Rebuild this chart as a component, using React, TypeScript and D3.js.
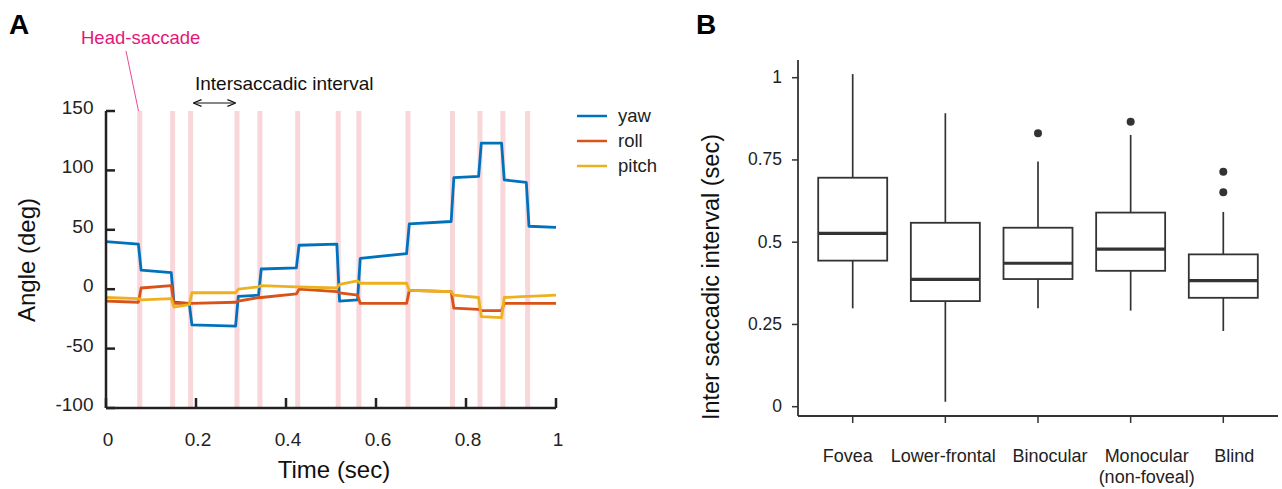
import React from "react";
import * as d3 from "d3";

// ---------- Panel A data ----------
const saccadeTimes = [0.075, 0.148, 0.188, 0.291, 0.342, 0.426, 0.516, 0.562, 0.671, 0.77, 0.831, 0.882, 0.937];
// each inter-saccade segment: [start value, end value]
const yawSegments: [number, number][] = [
  [40, 38], [16, 14], [-11, -12], [-30, -31], [-6, -5], [17, 18], [37, 38],
  [-10, -9], [26, 30], [55, 57], [94, 95], [123, 123], [92, 90], [53, 52],
];
const rollSegments: [number, number][] = [
  [-10, -11], [1, 3], [-12, -12], [-12, -11], [-10, -7], [-7, -4], [0, -2],
  [-3, -5], [-12, -12], [-1, -2], [-16, -17], [-18, -18], [-12, -12], [-12, -12],
];
const pitchSegments: [number, number][] = [
  [-7, -8], [-9, -8], [-15, -13], [-3, -3], [0, 2], [3, 2], [2, 1],
  [4, 7], [5, 5], [-1, -2], [-5, -7], [-23, -24], [-7, -6], [-6, -5],
];
const seriesNames = ["yaw", "roll", "pitch"];
const seriesColors = ["#0072BD", "#D95319", "#EDB120"];
const yTicksA = [-100, -50, 0, 50, 100, 150];
const xTicksA = [0, 0.2, 0.4, 0.6, 0.8, 1];

// ---------- Panel B data ----------
const categories = ["Fovea", "Lower-frontal", "Binocular", "Monocular\n(non-foveal)", "Blind"];
const whiskerLow = [0.299, 0.015, 0.299, 0.292, 0.23];
const q1 = [0.444, 0.321, 0.388, 0.413, 0.331];
const medians = [0.527, 0.387, 0.436, 0.479, 0.383];
const q3 = [0.696, 0.559, 0.544, 0.59, 0.463];
const whiskerHigh = [1.011, 0.892, 0.745, 0.826, 0.592];
const outliers: number[][] = [[], [], [0.831], [0.866], [0.714, 0.652]];
const yTicksB = [0, 0.25, 0.5, 0.75, 1];

function buildLine(segs: [number, number][]): [number, number][] {
  const bounds = [0, ...saccadeTimes, 1];
  const pts: [number, number][] = [];
  segs.forEach((s, i) => {
    const t0 = i === 0 ? bounds[0] : bounds[i] + 0.003;
    const t1 = i === segs.length - 1 ? bounds[i + 1] : bounds[i + 1] - 0.003;
    pts.push([t0, s[0]]);
    pts.push([t1, s[1]]);
  });
  return pts;
}

export default function App() {
  const font = "Liberation Sans, Arial, Helvetica, sans-serif";
  // Panel A scales
  const xA = d3.scaleLinear().domain([0, 1]).range([106, 556]);
  const yA = d3.scaleLinear().domain([-100, 150]).range([408, 111]);
  const lineGen = d3.line<[number, number]>().x((d) => xA(d[0])).y((d) => yA(d[1]));
  const allSeries = [yawSegments, rollSegments, pitchSegments];

  // Panel B scales
  const xB = d3.scalePoint<string>().domain(categories).range([852.7, 1223.3]);
  const yB = d3.scaleLinear().domain([0, 1]).range([406.7, 77.7]);
  const boxW = 69;
  const labelShift = [-5, -2, 12, 16, 11];

  return (
    <div style={{ position: "absolute", left: 0, top: 0 }}>
      <svg width={1282} height={489} style={{ display: "block", background: "#fff" }} fontFamily={font}>
        {/* Panel labels */}
        <text x={9} y={34} fontSize={28} fontWeight="bold" fill="#000">A</text>
        <text x={696} y={34} fontSize={28} fontWeight="bold" fill="#000">B</text>

        {/* Saccade bands */}
        {saccadeTimes.map((t, i) => (
          <rect key={i} x={xA(t) - 2.5} y={yA(150)} width={5} height={yA(-100) - yA(150)} fill="#f9d6da" />
        ))}

        {/* Annotations */}
        <text x={81} y={43.5} fontSize={18.5} fill="#e5177b">Head-saccade</text>
        <line x1={126} y1={51} x2={138.5} y2={111} stroke="#e5177b" strokeWidth={0.8} />
        <text x={195} y={90} fontSize={19} fill="#111">Intersaccadic interval</text>
        <defs>
          <marker id="arr" viewBox="0 0 10 10" refX={9} refY={5} markerWidth={7} markerHeight={7} orient="auto-start-reverse">
            <path d="M0,1 L10,5 L0,9" fill="none" stroke="#111" strokeWidth={1.5} />
          </marker>
        </defs>
        <line x1={194} y1={103} x2={235} y2={103} stroke="#111" strokeWidth={1.2} markerStart="url(#arr)" markerEnd="url(#arr)" />

        {/* Series */}
        {allSeries.map((segs, i) => (
          <path key={i} d={lineGen(buildLine(segs)) || ""} fill="none" stroke={seriesColors[i]} strokeWidth={2.8} strokeLinejoin="round" />
        ))}

        {/* Axes A */}
        <line x1={xA(0)} y1={yA(150)} x2={xA(0)} y2={yA(-100)} stroke="#222" strokeWidth={2.5} />
        <line x1={xA(0)} y1={yA(-100)} x2={xA(1)} y2={yA(-100)} stroke="#222" strokeWidth={2.5} />
        {yTicksA.map((v) => (
          <g key={v}>
            <line x1={xA(0)} x2={xA(0) + 9} y1={yA(v)} y2={yA(v)} stroke="#222" strokeWidth={2.5} />
            <text x={93.5} y={yA(v) + 3} textAnchor="end" fontSize={19} fill="#222">{v}</text>
          </g>
        ))}
        {xTicksA.map((v) => (
          <g key={v}>
            <line x1={xA(v)} x2={xA(v)} y1={yA(-100)} y2={yA(-100) - 10} stroke="#222" strokeWidth={2.5} />
            <text x={xA(v) + 2} y={446} textAnchor="middle" fontSize={19} fill="#222">{v}</text>
          </g>
        ))}
        <text x={334} y={478} textAnchor="middle" fontSize={24} fill="#111">Time (sec)</text>
        <text transform={`translate(35,260) rotate(-90)`} textAnchor="middle" fontSize={24} fill="#111">Angle (deg)</text>

        {/* Legend */}
        {seriesNames.map((n, i) => (
          <g key={n}>
            <line x1={577} x2={607} y1={116 + i * 25} y2={116 + i * 25} stroke={seriesColors[i]} strokeWidth={2.5} />
            <text x={618} y={121.5 + i * 25} fontSize={18.5} fill="#222">{n}</text>
          </g>
        ))}

        {/* Panel B */}
        {categories.map((c, i) => {
          const cx = xB(c) as number;
          return (
            <g key={c}>
              <line x1={cx} x2={cx} y1={yB(whiskerHigh[i])} y2={yB(q3[i])} stroke="#333" strokeWidth={1.7} />
              <line x1={cx} x2={cx} y1={yB(q1[i])} y2={yB(whiskerLow[i])} stroke="#333" strokeWidth={1.7} />
              <rect x={cx - boxW / 2} y={yB(q3[i])} width={boxW} height={yB(q1[i]) - yB(q3[i])} fill="none" stroke="#333" strokeWidth={1.8} />
              <line x1={cx - boxW / 2} x2={cx + boxW / 2} y1={yB(medians[i])} y2={yB(medians[i])} stroke="#333" strokeWidth={3.2} />
              {outliers[i].map((o, j) => (
                <circle key={j} cx={cx} cy={yB(o)} r={4} fill="#333" />
              ))}
              <line x1={cx} x2={cx} y1={416} y2={423} stroke="#333" strokeWidth={1.5} />
              {c.split("\n").map((part, k) => (
                <text key={k} x={cx + labelShift[i]} y={461.5 + k * 21} textAnchor="middle" fontSize={18} fill="#222">{part}</text>
              ))}
            </g>
          );
        })}
        <line x1={798} y1={60} x2={798} y2={416} stroke="#333" strokeWidth={1.8} />
        <line x1={798} y1={416} x2={1278} y2={416} stroke="#333" strokeWidth={1.8} />
        {yTicksB.map((v) => (
          <g key={v}>
            <line x1={792} x2={798} y1={yB(v)} y2={yB(v)} stroke="#333" strokeWidth={1.5} />
            <text x={782} y={yB(v) + 5.5} textAnchor="end" fontSize={17.5} fill="#222">{v}</text>
          </g>
        ))}
        <text transform={`translate(719,277) rotate(-90)`} textAnchor="middle" fontSize={23.5} fill="#111">Inter saccadic interval (sec)</text>
      </svg>
    </div>
  );
}
